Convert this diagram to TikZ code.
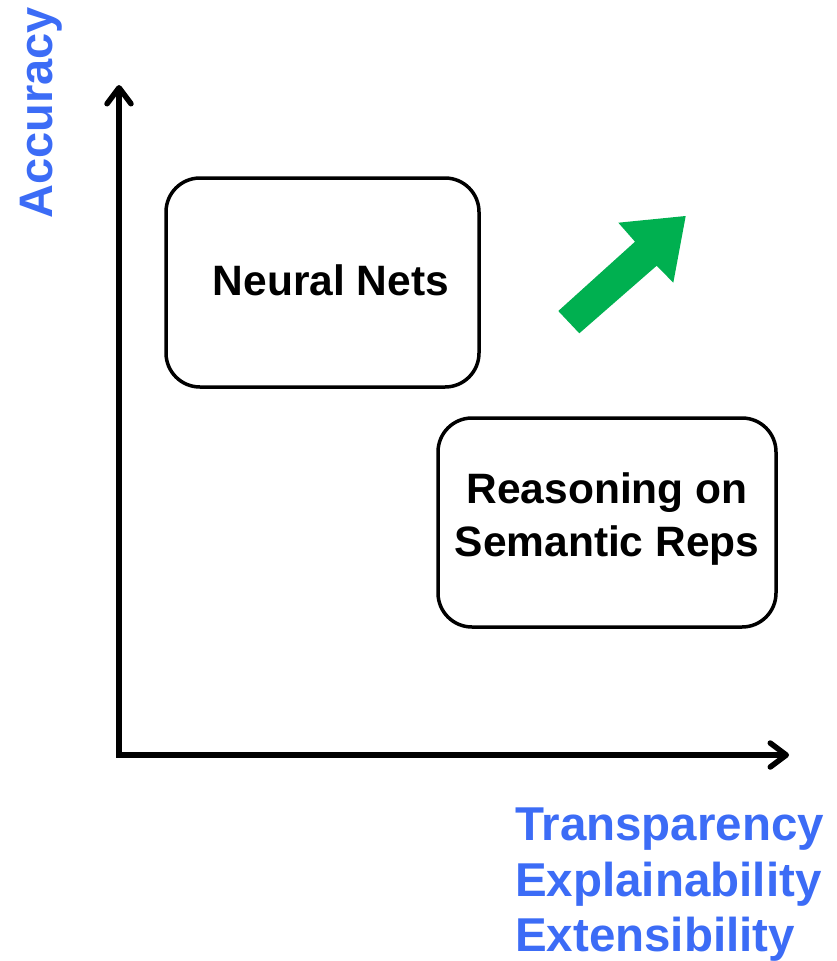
\documentclass[tikz,border=0pt]{standalone}
\usepackage{fontspec}
\setmainfont{Liberation Sans}
\usetikzlibrary{arrows.meta}
\definecolor{labelblue}{RGB}{60,108,246}
\definecolor{arrowgreen}{RGB}{0,176,80}
\begin{document}
\begin{tikzpicture}[x=1pt,y=-1pt,
  axis/.style={line width=5.5pt,-{Straight Barb[round,length=16pt,width=24pt]}},
  boxstyle/.style={draw,line width=3.5pt,rounded corners=34pt},
  boxtext/.style={font=\fontsize{42.5}{53}\selectfont\bfseries,align=center},
  axislabel/.style={font=\fontsize{47.5}{55}\selectfont\bfseries,text=labelblue}]
\useasboundingbox (0,0) rectangle (837,961);
\coordinate (origin) at (119,755);
\coordinate (ytop) at (119,85);
\coordinate (xend) at (789,755);
\draw[axis] ([yshift=2.75pt]origin) -- (ytop);
\draw[axis] ([xshift=-2.75pt]origin) -- (xend);
\draw[boxstyle] (166,178) rectangle (479,387);
\draw[boxstyle] (438,418) rectangle (776,627);
\node[boxtext] (nn) at (331,280) {Neural Nets};
\node[boxtext] (rs) at (607,519) {Reasoning on\\Semantic Reps};
\fill[arrowgreen] (558.3,311) -- (579.3,333.3) -- (656.7,265.7) -- (673.3,282.7)
  -- (685.7,216) -- (618.3,222.7) -- (635,241.7) -- cycle;
\node[axislabel,anchor=base west,inner sep=0pt] (xl1) at (515,840.5) {Transparency};
\node[axislabel,anchor=base west,inner sep=0pt] (xl2) at (515,896) {Explainability};
\node[axislabel,anchor=base west,inner sep=0pt] (xl3) at (515,951) {Extensibility};
\node[font=\fontsize{47}{55}\selectfont\bfseries,text=labelblue,rotate=90] (yl) at (41,113) {Accuracy};
\end{tikzpicture}
\end{document}
